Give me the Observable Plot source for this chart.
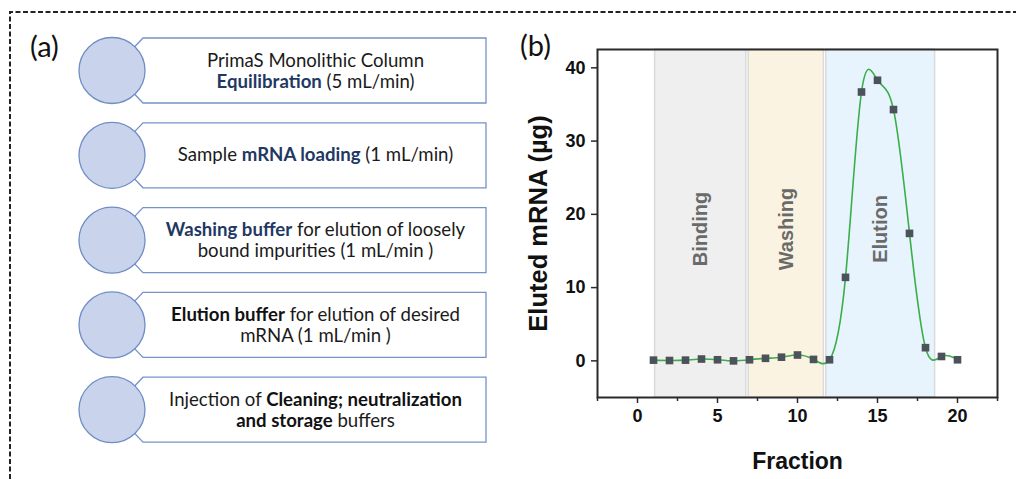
<!DOCTYPE html>
<html>
<head>
<meta charset="utf-8">
<script src="https://cdn.jsdelivr.net/npm/d3@7"></script>
<script src="https://cdn.jsdelivr.net/npm/@observablehq/plot@0.6"></script>
<style>
  body { margin: 0; background: #fff; }
  #wrap { position: relative; width: 1016px; height: 479px; overflow: hidden; background: #fff; }
  #diagram { position: absolute; left: 0; top: 0; }
  #chart { position: absolute; left: 500px; top: 0; }
</style>
</head>
<body>
<div id="wrap">
  <svg id="diagram" width="1016" height="479"></svg>
  <div id="chart"></div>
</div>
<script>
// ---------- data: chart ----------
const fractions = [1, 2, 3, 4, 5, 6, 7, 8, 9, 10, 11, 12, 13, 14, 15, 16, 17, 18, 19, 20];
const eluted = [0.1, 0.05, 0.1, 0.25, 0.15, 0.0, 0.15, 0.35, 0.5, 0.8, 0.2, 0.15, 11.4, 36.7, 38.3, 34.3, 17.4, 1.8, 0.6, 0.15];
const phaseNames = ["Binding", "Washing", "Elution"];
const phaseStart = [1.1, 6.95, 11.8];
const phaseEnd = [6.8, 11.65, 18.6];
const phaseFill = ["#efefef", "#fbf3e2", "#e8f4fd"];
const phaseLabelValue = 18;
const xTicks = [0, 5, 10, 15, 20];
const xMinorTicks = [-2.5, 2.5, 7.5, 12.5, 17.5, 22.5];
const yTicks = [0, 10, 20, 30, 40];
const xLabel = "Fraction";
const yLabel = "Eluted mRNA (µg)";

// ---------- data: protocol steps (segments: [text, style]) ----------
const stepLines = [
  [[["PrimaS Monolithic Column", ""]], [["Equilibration", "navy"], [" (5 mL/min)", ""]]],
  [[["Sample ", ""], ["mRNA loading", "navy"], [" (1 mL/min)", ""]]],
  [[["Washing buffer", "navy"], [" for elution of loosely", ""]], [["bound impurities (1 mL/min )", ""]]],
  [[["Elution buffer", "bold"], [" for elution of desired", ""]], [["mRNA (1 mL/min )", ""]]],
  [[["Injection of ", ""], ["Cleaning; neutralization", "bold"]], [["and storage", "bold"], [" buffers", ""]]]
];
const panelLabels = ["(a)", "(b)"];

// ---------- diagram ----------
const svg = d3.select("#diagram");
const bodyFont = "Lato, 'Open Sans', sans-serif";
// dashed border
svg.append("path")
  .attr("d", "M10,479 V12 H1016")
  .attr("fill", "none").attr("stroke", "#222").attr("stroke-width", 2)
  .attr("stroke-dasharray", "5,2.5");

svg.append("text").attr("x", 30).attr("y", 57).attr("font-family", bodyFont)
  .attr("font-size", 29).attr("fill", "#111").text(panelLabels[0]);
svg.append("text").attr("x", 520).attr("y", 56).attr("font-family", bodyFont)
  .attr("font-size", 29).attr("fill", "#111").text(panelLabels[1]);

const boxTop0 = 38, boxPitch = 84.8, boxH = 65;
const cx = 112, r = 33, bx = 143, bxR = 486;
stepLines.forEach((lines, i) => {
  const top = boxTop0 + i * boxPitch;
  const cy = top + boxH / 2;
  svg.append("path")
    .attr("d", `M${cx},${cy} L${bx},${top} H${bxR} V${top + boxH} H${bx} Z`)
    .attr("fill", "#fff").attr("stroke", "#7693c9").attr("stroke-width", 1.3);
  svg.append("circle").attr("cx", cx).attr("cy", cy).attr("r", r)
    .attr("fill", "#c9d3ec").attr("stroke", "#6f8dc6").attr("stroke-width", 1.3);
  const baselines = lines.length === 1 ? [cy + 6] : [cy - 4, cy + 17];
  lines.forEach((segs, j) => {
    const t = svg.append("text").attr("x", (bx + bxR) / 2 + 1).attr("y", baselines[j])
      .attr("text-anchor", "middle").attr("font-family", bodyFont)
      .attr("font-size", 18.6).attr("fill", "#1a1a1a");
    segs.forEach(([s, st]) => {
      const ts = t.append("tspan").text(s);
      if (st === "navy") ts.attr("font-weight", "bold").attr("fill", "#1f3864");
      if (st === "bold") ts.attr("font-weight", "bold").attr("fill", "#111");
    });
  });
});

// ---------- chart ----------
const data = fractions.map((f, i) => ({fraction: f, eluted: eluted[i]}));
const phases = phaseNames.map((n, i) => ({
  name: n, start: phaseStart[i], end: phaseEnd[i], fill: phaseFill[i],
  mid: (phaseStart[i] + phaseEnd[i]) / 2, yv: phaseLabelValue
}));
const chartFont = "'Liberation Sans', Arial, sans-serif";

const chart = Plot.plot({
  width: 516,
  height: 479,
  marginLeft: 97,
  marginRight: 19,
  marginTop: 49,
  marginBottom: 82,
  style: {fontFamily: chartFont, background: "transparent", overflow: "visible", color: "#111"},
  x: {domain: [-2.5, 22.5]},
  y: {domain: [-5, 42.5]},
  color: {type: "identity"},
  marks: [
    Plot.rect(phases, {x1: "start", x2: "end", fill: "fill", stroke: "#dadada", strokeWidth: 1.5}),
    Plot.text(phases, {x: "mid", y: "yv", text: "name", rotate: -90, fontSize: 20, fontWeight: "bold", fill: "#6a6a6a"}),
    Plot.line(data, {x: "fraction", y: "eluted", curve: "natural", stroke: "#3aae48", strokeWidth: 1.6}),
    Plot.dot(data, {x: "fraction", y: "eluted", symbol: "square", r: 4.3, fill: "#4c525a", stroke: "none"}),
    Plot.frame({stroke: "#2a2a2a", strokeWidth: 2}),
    Plot.axisX({ticks: xTicks, tickSize: 6, tickPadding: 6, fontSize: 18, fontWeight: "bold", label: null, stroke: "#2a2a2a", strokeWidth: 1.5}),
    Plot.axisX({ticks: xMinorTicks, tickSize: 4, tickFormat: () => "", label: null, stroke: "#2a2a2a", strokeWidth: 1.5}),
    Plot.axisY({ticks: yTicks, tickSize: 6, tickPadding: 6, fontSize: 18, fontWeight: "bold", label: null, stroke: "#2a2a2a", strokeWidth: 1.5}),
    Plot.text([xLabel], {text: d => d, frameAnchor: "bottom", dy: 71, fontSize: 23, fontWeight: "bold", fill: "#111"}),
    Plot.text([yLabel], {text: d => d, frameAnchor: "left", textAnchor: "middle", dx: -59, rotate: -90, fontSize: 25.5, fontWeight: "bold", fill: "#111"})
  ]
});
document.getElementById("chart").appendChild(chart);
</script>
</body>
</html>
